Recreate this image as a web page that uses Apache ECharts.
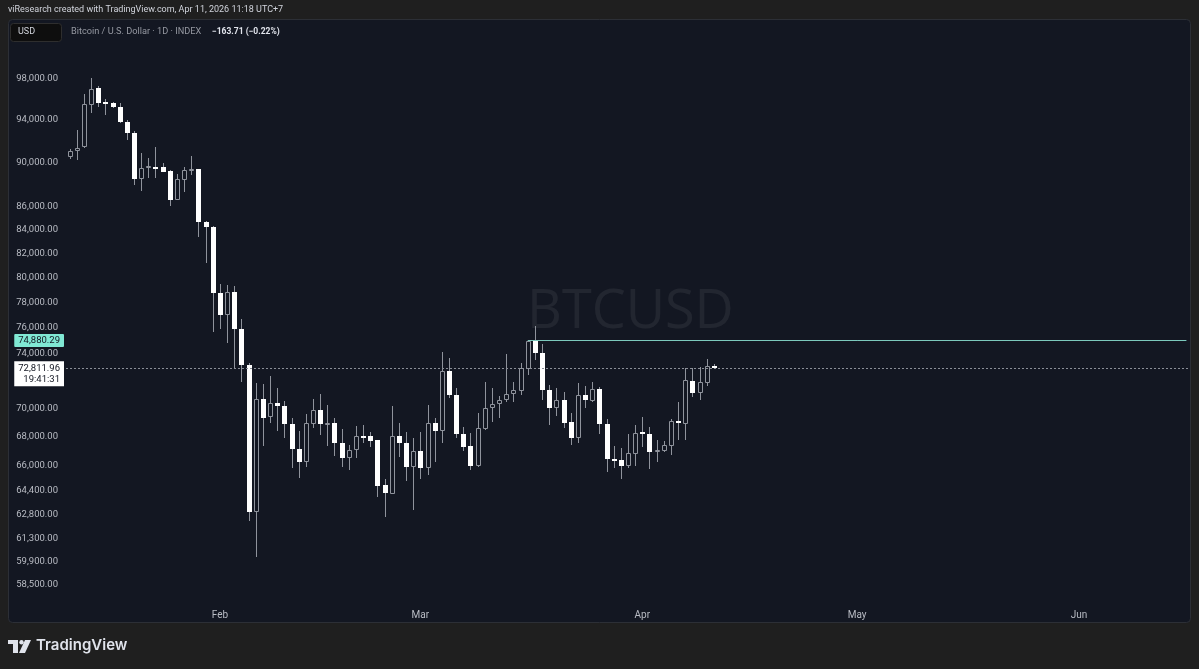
<!DOCTYPE html>
<html>
<head>
<meta charset="utf-8">
<style>
  html, body { margin: 0; padding: 0; background: #1f1f1f; }
  #chart { width: 1199px; height: 669px; }
</style>
<script src="https://cdn.jsdelivr.net/npm/echarts@6/dist/echarts.min.js"></script>
</head>
<body>
<div id="chart"></div>
<script>
// ---- Data (BTCUSD daily) ----
var candleStart = '2026-01-11';   // first visible candle
var axisEnd = '2026-06-16';       // last (empty) day on the time axis
var opens  = [90270,90820,91210,95200,96870,95500,95430,95030,93600,92500,
              88260,89350,89400,89380,89000,86420,88200,89100,89150,84500,
              84080,78620,76840,78650,75770,73020,62820,70510,69230,70250,
              70060,68760,67020,66170,68760,69740,68800,68850,67460,66390,
              66960,67940,67940,67640,64590,64030,67940,67460,65830,66910,
              65720,68810,68300,72600,70820,68040,67240,65900,68400,69870,
              70150,70460,70870,71130,72730,74880,73900,71180,69870,70460,
              68880,67760,70820,70410,71230,68740,66340,66280,65880,66690,
              68180,68040,66900,66890,67240,68990,68760,71860,71000,71700,
              72975.67];
var highs  = [91000,92800,96330,97870,97100,95770,95550,95430,93800,92740,
              90620,90220,91210,89760,89060,88730,89400,90410,89200,84550,
              84150,79320,79240,79160,76560,73150,71670,71620,72200,71360,
              70410,69160,68260,69440,70530,70860,70100,69200,68380,67300,
              68640,68690,68220,67650,64990,70030,68850,68220,67760,68220,
              70100,69200,73970,73520,71300,68530,68110,69510,71790,71300,
              70750,73880,71790,73200,74880,75990,74610,71550,71300,71060,
              69510,71720,71480,71790,71380,69090,67200,67080,68060,68690,
              69230,68560,67650,67550,69090,70340,72780,72780,72900,73440,
              73100];
var lows   = [90080,90010,91120,94400,94970,94200,94900,93480,91860,87750,
              87220,88350,88350,88900,85910,86400,87160,88650,83190,81010,
              75550,75770,74650,72750,71790,62250,60060,67240,68810,68240,
              67800,65720,65060,65780,68480,67990,67260,66570,65790,65600,
              66390,67420,67160,63850,62560,64030,66460,64880,62990,64990,
              65270,66170,67420,70580,67760,66880,65600,65830,68350,68920,
              69160,70340,70340,70820,72280,73390,70460,68690,69320,68460,
              67330,67420,69870,70340,68060,65500,65720,64990,65720,65880,
              67150,65650,66170,66820,66620,67650,67650,70680,70460,71440,
              72700];
var closes = [90850,91120,95290,96800,95430,95400,95030,93580,92500,88260,
              89320,89450,89380,88950,86420,88260,89100,89200,84480,84050,
              78620,76840,78700,75770,73020,62820,70510,69200,70230,70060,
              68740,67010,66170,68810,69740,68760,68850,67460,66390,66960,
              67940,67900,67580,64550,64070,67940,67460,65830,66910,65720,
              68810,68300,72600,70820,68040,67190,65900,68460,69870,70150,
              70460,70870,71180,72780,74860,73900,71180,69870,70460,68810,
              67760,70820,70460,71230,68740,66340,66300,65880,66730,68150,
              68040,66820,66960,67330,68990,68810,71910,71000,71740,72976,
              72811.96];
var yTicks = [98000,94000,90000,86000,84000,82000,80000,78000,76000,74000,
              70000,68000,66000,64400,62800,61300,59900,58500];
var monthNames = ['Jan','Feb','Mar','Apr','May','Jun','Jul','Aug','Sep','Oct','Nov','Dec'];
var levelLine = { from: '2026-03-16', value: 74880.29, label: '74,880.29' };
var lastPrice = { value: 72811.96, label: '72,811.96', timer: '19:41:31' };

// ---- Build categories (calendar days) ----
function dayList(a, b) {
  var out = [];
  var d = new Date(a + 'T00:00:00Z'), e = new Date(b + 'T00:00:00Z');
  while (d <= e) { out.push(d.toISOString().slice(0, 10)); d = new Date(d.getTime() + 86400000); }
  return out;
}
var categories = dayList(candleStart, axisEnd);
var candleData = opens.map(function (o, i) { return [i, o, highs[i], lows[i], closes[i]]; });

function fmtPrice(v) {
  var n = Math.round(v).toString();
  return n.replace(/\B(?=(\d{3})+(?!\d))/g, ',') + '.00';
}

var BG = '#131722', WICK = '#8f939c', TXT = '#b9bcc4';

var chart = echarts.init(document.getElementById('chart'), null, { renderer: 'canvas' });
chart.setOption({
  animation: false,
  backgroundColor: '#1f1f1f',
  grid: { left: 66, right: 9, top: 44, bottom: 72, containLabel: false },
  xAxis: {
    type: 'category',
    data: categories,
    boundaryGap: true,
    axisLine: { show: false },
    axisTick: { show: false },
    splitLine: { show: false },
    axisLabel: {
      color: TXT, fontSize: 10, fontFamily: 'Roboto', margin: 13,
      interval: function (idx, val) { return val.slice(8) === '01'; },
      formatter: function (val) { return monthNames[parseInt(val.slice(5, 7), 10) - 1]; }
    }
  },
  yAxis: {
    type: 'log',
    logBase: 10,
    min: 57630,
    max: 101325,
    position: 'left',
    axisLine: { show: false },
    axisTick: { show: false },
    splitLine: { show: false },
    minorSplitLine: { show: false },
    axisLabel: {
      customValues: yTicks,
      color: TXT, fontSize: 9.5, fontFamily: 'Roboto', margin: 8,
      formatter: function (v) { return '{p|' + fmtPrice(v) + '}'; },
      rich: { p: { color: TXT, fontSize: 9.5, fontFamily: 'Roboto', padding: [4, 0, 0, 0] } }
    }
  },
  graphic: [
    { type: 'rect', z: -10, shape: { x: 8.5, y: 19.5, width: 1182, height: 603, r: 4 },
      style: { fill: BG, stroke: '#2c2f36', lineWidth: 1 } },
    { type: 'text', z: 1, left: 8, top: 5,
      style: { text: 'viResearch created with TradingView.com, Apr 11, 2026 11:18 UTC+7',
               fill: '#d1d4dc', font: '9px Roboto' } },
    { type: 'rect', z: 1, shape: { x: 10.5, y: 23.5, width: 51, height: 18, r: 3 },
      style: { fill: '#0e0e0e', stroke: '#2e2e2e', lineWidth: 1 } },
    { type: 'text', z: 2, left: 18, top: 27,
      style: { text: 'USD', fill: '#d1d4dc', font: '9px Roboto' } },
    { type: 'text', z: 2, left: 71, top: 27,
      style: { text: 'Bitcoin / U.S. Dollar · 1D · INDEX', fill: '#9598a1', font: '9.2px Roboto' } },
    { type: 'text', z: 2, left: 212, top: 27,
      style: { text: '\u2212163.71 (\u22120.22%)', fill: '#e0e3eb', font: 'bold 8.5px Roboto' } },
    { type: 'text', z: 0, left: 527, top: 286,
      style: { text: 'BTCUSD', fill: 'rgba(255,255,255,0.065)', font: '54px "Open Sans"' } },
    // TradingView logo
    { type: 'group', left: 8, top: 640, children: [
      { type: 'rect', shape: { x: 0, y: 0, width: 10, height: 4 }, style: { fill: '#e0e3eb' } },
      { type: 'rect', shape: { x: 5, y: 0, width: 5, height: 13 }, style: { fill: '#e0e3eb' } },
      { type: 'circle', shape: { cx: 13.5, cy: 2.2, r: 2.2 }, style: { fill: '#e0e3eb' } },
      { type: 'polygon', shape: { points: [[17, 0], [23, 0], [17, 13], [11, 13]] }, style: { fill: '#e0e3eb' } }
    ] },
    { type: 'text', left: 36, top: 638,
      style: { text: 'TradingView', fill: '#e0e3eb', font: '600 15px Inter' } }
  ],
  series: [{
    type: 'custom',
    name: 'BTCUSD',
    data: candleData,
    encode: { x: 0, y: [1, 2, 3, 4] },
    renderItem: function (params, api) {
      var x = api.value(0), o = api.value(1), h = api.value(2), l = api.value(3), c = api.value(4);
      var po = api.coord([x, o]), pc = api.coord([x, c]), ph = api.coord([x, h]), pl = api.coord([x, l]);
      var cx = Math.round(po[0]);
      var top = Math.round(Math.min(po[1], pc[1])), bot = Math.round(Math.max(po[1], pc[1]));
      if (bot - top < 2) bot = top + 2;
      var kids = [{ type: 'line',
        shape: { x1: cx + 0.5, y1: Math.round(ph[1]), x2: cx + 0.5, y2: Math.round(pl[1]) },
        style: { stroke: WICK, lineWidth: 1 } }];
      if (c >= o) {
        kids.push({ type: 'rect', shape: { x: cx - 1.5, y: top + 0.5, width: 4, height: Math.max(bot - top - 1, 1) },
          style: { fill: BG, stroke: WICK, lineWidth: 1 } });
      } else {
        kids.push({ type: 'rect', shape: { x: cx - 2, y: top, width: 5, height: bot - top },
          style: { fill: '#ffffff' } });
      }
      return { type: 'group', children: kids };
    },
    markLine: {
      silent: true, symbol: 'none', animation: false,
      data: [
        [ { coord: [levelLine.from, levelLine.value], lineStyle: { color: '#7cc9bd', width: 1, type: 'solid' },
            label: { show: false } },
          { coord: [categories[categories.length - 1], levelLine.value] } ],
        { yAxis: levelLine.value, lineStyle: { color: 'rgba(0,0,0,0)', width: 1 },
          label: { show: true, position: 'start', distance: 2, formatter: levelLine.label,
                   backgroundColor: '#80e8d4', color: '#131722', fontSize: 9.5, fontFamily: 'Roboto',
                   padding: [2, 4, 1, 4], borderRadius: 1 } },
        { yAxis: lastPrice.value, lineStyle: { color: '#8a8e97', width: 1, type: [2, 2] },
          label: { show: true, position: 'start', distance: 2, offset: [0, 6],
                   formatter: lastPrice.label + '\n' + lastPrice.timer,
                   backgroundColor: '#ffffff', color: '#131722', fontSize: 9.5, fontFamily: 'Roboto',
                   lineHeight: 11, padding: [2, 4, 1, 4], borderColor: '#131722', borderWidth: 1, align: 'right' } }
      ]
    }
  }]
});
</script>
</body>
</html>
